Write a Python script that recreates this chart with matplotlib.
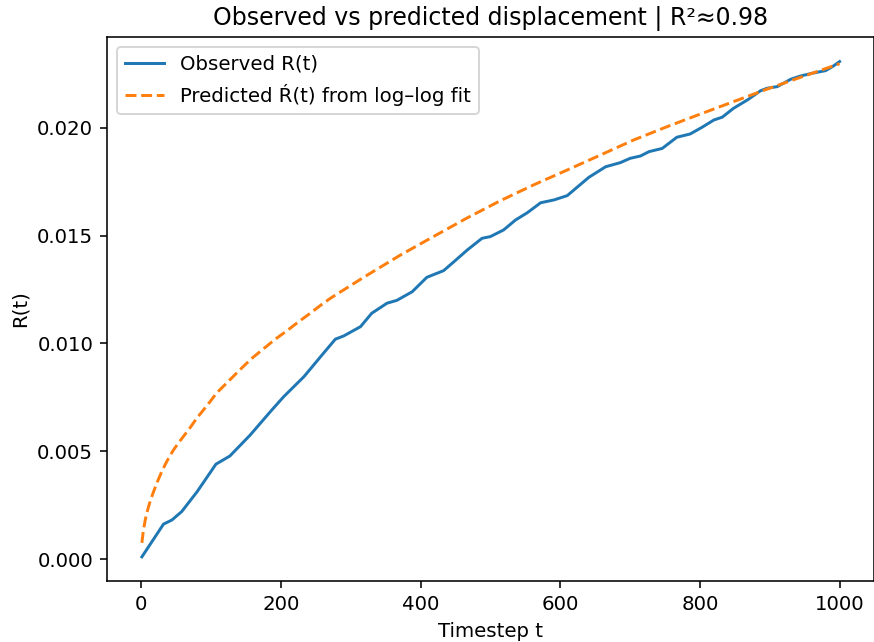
import numpy as np
import matplotlib
matplotlib.use("Agg")
import matplotlib.pyplot as plt

# observed displacement
t_obs = [1, 32, 44, 58, 80, 107, 127, 156, 185, 204, 233, 259, 278, 290, 314, 330,
         352, 366, 388, 409, 433, 448, 467, 488, 500, 519, 536, 553, 572, 591, 610,
         641, 665, 686, 700, 715, 727, 746, 767, 786, 803, 820, 832, 848, 868, 887,
         896, 911, 930, 944, 961, 980, 990, 1000]
r_obs = [0.0001, 0.00162, 0.00181, 0.0022, 0.00312, 0.0044, 0.00478, 0.00575, 0.00684,
         0.00753, 0.00846, 0.00947, 0.0102, 0.01035, 0.01078, 0.0114, 0.01187, 0.0120,
         0.0124, 0.01307, 0.01338, 0.0138, 0.01434, 0.01488, 0.01496, 0.01527, 0.01573,
         0.01607, 0.01653, 0.01666, 0.01686, 0.01771, 0.0182, 0.01839, 0.01859, 0.0187,
         0.0189, 0.01905, 0.01957, 0.01972, 0.02003, 0.02037, 0.0205, 0.02091, 0.0213,
         0.02173, 0.02184, 0.02192, 0.02226, 0.02241, 0.02254, 0.02266, 0.02285, 0.02308]

# predicted curve (log-log fit)
t_pred = [1, 3, 6, 9, 13, 18, 23, 30, 37, 46, 56, 68, 80, 95, 108, 125, 142, 158, 175,
          192, 209, 225, 242, 256, 271, 320, 371, 419, 467, 514, 562, 610, 658, 705,
          753, 801, 848, 896, 944, 1000]
r_pred = [0.00075, 0.0013, 0.00185, 0.00225, 0.0027, 0.00315, 0.00357, 0.0041, 0.00455,
          0.00505, 0.0055, 0.006, 0.00655, 0.00715, 0.0077, 0.00825, 0.0088, 0.0093,
          0.00975, 0.0102, 0.0106, 0.011, 0.0114, 0.01175, 0.0121, 0.0131, 0.0141,
          0.01497, 0.01583, 0.01662, 0.01736, 0.01805, 0.01875, 0.01944, 0.02006,
          0.02065, 0.02122, 0.0218, 0.02235, 0.02298]

DPI = 142
fig = plt.figure(figsize=(875 / DPI, 642 / DPI), dpi=DPI)
ax = fig.add_axes([107 / 875, 61 / 642, 767.5 / 875, 544 / 642])

ax.plot(t_obs, r_obs, color='#1f77b4', label='Observed R(t)')
ax.plot(t_pred, r_pred, '--', color='#ff7f0e', label='Predicted Ŕ(t) from log–log fit')
ax.set_xlabel('Timestep t')
ax.set_ylabel('R(t)')
ax.set_title('Observed vs predicted displacement | R²≈0.98')
ax.set_yticks([0.0, 0.005, 0.010, 0.015, 0.020])
ax.set_ylim(-0.00102, 0.02422)
ax.legend(loc='upper left')

fig.savefig('out.png', dpi=DPI)
